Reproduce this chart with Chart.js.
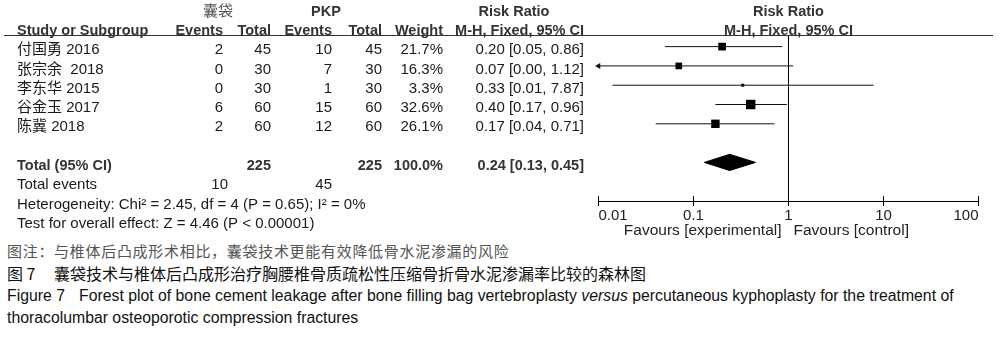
<!DOCTYPE html>
<html><head><meta charset="utf-8">
<script src="https://cdn.jsdelivr.net/npm/chart.js@4.4.1/dist/chart.umd.min.js"></script>
<style>
html,body{margin:0;padding:0;background:#fff;}
body{width:1000px;height:337px;position:relative;overflow:hidden;}
#wrap{position:absolute;left:0;top:0;width:1000px;height:240px;}
.cap{position:absolute;white-space:nowrap;line-height:20px;height:20px;}
.zh{font-family:"Noto Sans CJK SC",sans-serif;}
.en{font-family:"Liberation Sans",Arial,sans-serif;font-size:15.8px;color:#111;}
</style></head><body>
<div id="wrap"><canvas id="c" width="1000" height="240" style="width:1000px;height:240px"></canvas></div>
<div class="cap zh" style="left:7px;top:241px;font-size:15px;letter-spacing:0.7px;color:#555;">图注：与椎体后凸成形术相比，囊袋技术更能有效降低骨水泥渗漏的风险</div>
<div class="cap zh" style="left:7px;top:263px;font-size:16px;color:#111;">图 7</div>
<div class="cap zh" style="left:54px;top:263px;font-size:16px;color:#111;">囊袋技术与椎体后凸成形治疗胸腰椎骨质疏松性压缩骨折骨水泥渗漏率比较的森林图</div>
<div class="cap en" style="left:7px;top:286px;">Figure 7</div>
<div class="cap en" style="left:79px;top:286px;">Forest plot of bone cement leakage after bone filling bag vertebroplasty <i>versus</i> percutaneous kyphoplasty for the treatment of</div>
<div class="cap en" style="left:7px;top:308px;">thoracolumbar osteoporotic compression fractures</div>
<script>
// ---- data ----
const studies    = ['付国勇 2016', '张宗余  2018', '李东华 2015', '谷金玉 2017', '陈冀 2018'];
const expEvents  = [2, 0, 0, 6, 2];
const expTotal   = [45, 30, 30, 60, 60];
const ctlEvents  = [10, 7, 1, 15, 12];
const ctlTotal   = [45, 30, 30, 60, 60];
const weights    = [21.7, 16.3, 3.3, 32.6, 26.1];
const rr         = [0.20, 0.07, 0.33, 0.40, 0.17];
const ciLow      = [0.05, 0.00, 0.014, 0.17, 0.04];
const ciHigh     = [0.86, 1.12, 7.87, 0.96, 0.71];
const pooled     = [0.24, 0.13, 0.45];   // estimate, low, high
const totalN     = [225, 225];
const totalEvents= [10, 45];
const tickValues = [0.01, 0.1, 1, 10, 100];
const tickLabels = ['0.01', '0.1', '1', '10', '100'];
const groupNames = ['囊袋', 'PKP'];
const heterogeneity = 'Heterogeneity: Chi\u00B2 = 2.45, df = 4 (P = 0.65); I\u00B2 = 0%';
const overallTest   = 'Test for overall effect: Z = 4.46 (P < 0.00001)';

// ---- layout / style constants ----
const X_MIN = 0.01, X_MAX = 100;
const Y_MIN = -0.55, Y_MAX = 8;
const TOTAL_ROW = 6;
const FONT = '"Liberation Sans", Arial, "Noto Sans CJK SC", sans-serif';
const FS = 15;
const FSB = 14.5;
const TXT = '#1a1a1a', HDR = '#333';
const COL = {name:17, e1:223, t1:271, e2:332, t2:382, w:443, ci:584, te1:228, te2:332};

const fmt2 = v => v.toFixed(2);

const datasets = [];
// null line
datasets.push({data:[{x:1,y:Y_MIN},{x:1,y:Y_MAX}], showLine:true, borderColor:'#000', borderWidth:1, pointRadius:0, clip:false});
// CI lines
studies.forEach((s,i)=>{
  const lo = Math.max(ciLow[i], X_MIN), hi = Math.min(ciHigh[i], X_MAX);
  datasets.push({
    data:[{x:lo,y:i},{x:hi,y:i}], showLine:true, borderColor:'#111', borderWidth:1,
    pointStyle:'triangle', pointRotation:[-90, 90],
    pointRadius:[ciLow[i] < X_MIN ? 3.5 : 0, ciHigh[i] > X_MAX ? 3.5 : 0],
    pointBackgroundColor:'#111', pointBorderColor:'#111', pointBorderWidth:0, clip:false
  });
});
// squares
datasets.push({
  data: rr.map((v,i)=>({x:v,y:i})), showLine:false, pointStyle:'rect',
  pointRadius: weights.map(w => Math.sqrt(w)*1.65/Math.SQRT2),
  pointBackgroundColor:'#000', pointBorderWidth:0, clip:false
});
// diamond
const DH = 0.42;
datasets.push({
  data:[{x:pooled[1],y:TOTAL_ROW},{x:pooled[0],y:TOTAL_ROW-DH},{x:pooled[2],y:TOTAL_ROW},{x:pooled[0],y:TOTAL_ROW+DH},{x:pooled[1],y:TOTAL_ROW}],
  showLine:true, fill:'shape', backgroundColor:'#000', borderColor:'#000', borderWidth:1, pointRadius:0, tension:0, clip:false
});

function text(ctx, s, x, y, align, bold, color, size){
  ctx.font = (bold ? 'bold ' : '') + (size || (bold ? FSB : FS)) + 'px ' + FONT;
  ctx.fillStyle = color || TXT;
  ctx.textAlign = align;
  ctx.textBaseline = 'middle';
  ctx.fillText(s, x, y);
}

const tablePlugin = {
  id:'table',
  afterDraw(chart){
    const ctx = chart.ctx, ys = chart.scales.y, xs = chart.scales.x, ca = chart.chartArea;
    const ry = r => ys.getPixelForValue(r) + 3.5;
    ctx.save();
    // header line
    ctx.strokeStyle = '#333'; ctx.lineWidth = 1;
    ctx.beginPath(); ctx.moveTo(4, Math.round(ca.top)-0.5); ctx.lineTo(993, Math.round(ca.top)-0.5); ctx.stroke();
    // upper halves of ticks
    ctx.strokeStyle = '#000';
    tickValues.forEach(v=>{
      const px = Math.floor(xs.getPixelForValue(v)) + 0.5;
      ctx.beginPath(); ctx.moveTo(px, ca.bottom-5); ctx.lineTo(px, ca.bottom); ctx.stroke();
    });
    // group headers
    text(ctx, groupNames[0], 218, ry(-2), 'center', false, '#555', 15);
    text(ctx, groupNames[1], 326, ry(-2), 'center', true, HDR);
    text(ctx, 'Risk Ratio', 514, ry(-2), 'center', true, HDR);
    const x1 = xs.getPixelForValue(1);
    text(ctx, 'Risk Ratio', x1, ry(-2), 'center', true, HDR);
    // column headers
    text(ctx, 'Study or Subgroup', COL.name, ry(-1), 'left', true, HDR);
    text(ctx, 'Events', COL.e1, ry(-1), 'right', true, HDR);
    text(ctx, 'Total', COL.t1, ry(-1), 'right', true, HDR);
    text(ctx, 'Events', COL.e2, ry(-1), 'right', true, HDR);
    text(ctx, 'Total', COL.t2, ry(-1), 'right', true, HDR);
    text(ctx, 'Weight', COL.w, ry(-1), 'right', true, HDR);
    text(ctx, 'M-H, Fixed, 95% CI', COL.ci, ry(-1), 'right', true, HDR);
    text(ctx, 'M-H, Fixed, 95% CI', x1, ry(-1), 'center', true, HDR);
    // study rows
    studies.forEach((s,i)=>{
      const y = ry(i);
      text(ctx, s, COL.name, y, 'left');
      text(ctx, String(expEvents[i]), COL.e1, y, 'right');
      text(ctx, String(expTotal[i]), COL.t1, y, 'right');
      text(ctx, String(ctlEvents[i]), COL.e2, y, 'right');
      text(ctx, String(ctlTotal[i]), COL.t2, y, 'right');
      text(ctx, weights[i].toFixed(1) + '%', COL.w, y, 'right');
      text(ctx, fmt2(rr[i]) + ' [' + fmt2(ciLow[i]) + ', ' + fmt2(ciHigh[i]) + ']', COL.ci, y, 'right');
    });
    // total row
    const yt = ry(TOTAL_ROW);
    const wsum = weights.reduce((a,b)=>a+b,0);
    text(ctx, 'Total (95% CI)', COL.name, yt, 'left', true, HDR);
    text(ctx, String(totalN[0]), COL.t1, yt, 'right', true, HDR);
    text(ctx, String(totalN[1]), COL.t2, yt, 'right', true, HDR);
    text(ctx, wsum.toFixed(1) + '%', COL.w, yt, 'right', true, HDR);
    text(ctx, fmt2(pooled[0]) + ' [' + fmt2(pooled[1]) + ', ' + fmt2(pooled[2]) + ']', COL.ci, yt, 'right', true, HDR);
    // totals & stats
    text(ctx, 'Total events', COL.name, ry(7), 'left');
    text(ctx, String(totalEvents[0]), COL.te1, ry(7), 'right');
    text(ctx, String(totalEvents[1]), COL.te2, ry(7), 'right');
    text(ctx, heterogeneity, COL.name, ry(8), 'left');
    text(ctx, overallTest, COL.name, ry(9), 'left');
    // favours labels
    text(ctx, 'Favours [experimental]', x1 - 7, 231, 'right', false, '#222', 15.5);
    text(ctx, 'Favours [control]', x1 + 5, 231, 'left', false, '#222', 15.5);
    ctx.restore();
  }
};

new Chart(document.getElementById('c'), {
  type:'scatter',
  data:{datasets},
  options:{
    responsive:false, animation:false, devicePixelRatio:1,
    layout:{padding:{left:598.5, right:21.5, top:36, bottom:0}},
    plugins:{legend:{display:false}, tooltip:{enabled:false}},
    elements:{line:{tension:0}},
    scales:{
      x:{
        type:'logarithmic', min:X_MIN, max:X_MAX, position:'bottom',
        afterBuildTicks: s => { s.ticks = tickValues.map(v=>({value:v})); },
        afterFit: s => { s.height = 39; },
        ticks:{callback:(v,i)=>tickLabels[i], align:'inner', color:'#222', font:{family:FONT, size:15}, padding:1, maxRotation:0, autoSkip:false},
        grid:{drawOnChartArea:false, tickLength:5, color:'#000', tickColor:'#000', lineWidth:1},
        border:{display:true, color:'#000', width:1}
      },
      y:{type:'linear', min:Y_MIN, max:Y_MAX, reverse:true, display:false}
    }
  },
  plugins:[tablePlugin]
});
</script>
</body></html>
